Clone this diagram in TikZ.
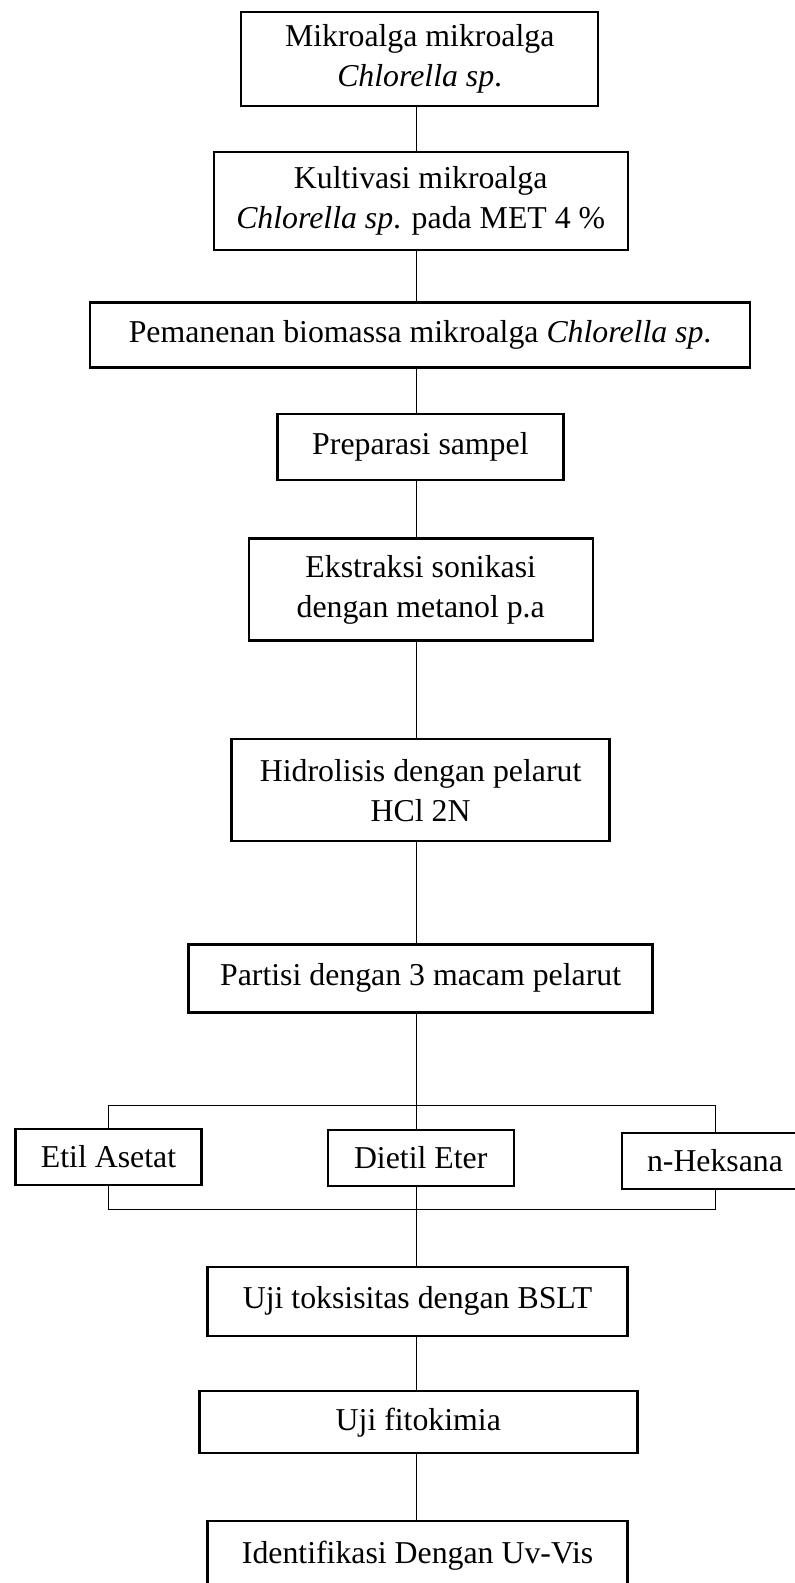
\documentclass[tikz,border=0pt]{standalone}
\usepackage{fontspec}
\setmainfont{Liberation Serif}
\usetikzlibrary{calc}

\begin{document}
\begin{tikzpicture}[x=1pt, y=-1pt,
  block/.style={rectangle, draw=black, line width=2.4pt, align=center, inner sep=0pt, font=\fontsize{31.8}{40}\selectfont},
  link/.style={draw=black, line width=1pt}]
  \useasboundingbox (0,0) rectangle (795,1583);
  \clip (0,0) rectangle (795,1583);

  \node[block, minimum width=357pt, minimum height=94pt] at (419.7,58.8) (b1) {Mikroalga mikroalga\\\textit{Chlorella sp}.};
  \node[block, minimum width=414pt, minimum height=98pt] at (420.7,201) (b2) {Kultivasi mikroalga\\\textit{Chlorella sp}. pada MET 4 \%};
  \node[block, minimum width=660pt, minimum height=65pt] at (420.1,335) (b3) {Pemanenan biomassa mikroalga \textit{Chlorella sp}.};
  \node[block, minimum width=286pt, minimum height=66pt] at (420.4,447.2) (b4) {Preparasi sampel};
  \node[block, minimum width=344pt, minimum height=102pt] at (420.7,589.5) (b5) {Ekstraksi sonikasi\\dengan metanol p.a};
  \node[block, minimum width=378pt, minimum height=102pt] at (420.6,790.2) (b6) {Hidrolisis dengan pelarut\\HCl 2N};
  \node[block, minimum width=464pt, minimum height=68pt] at (420.6,978.3) (b7) {Partisi dengan 3 macam pelarut};

  \node[block, minimum width=186pt, minimum height=56pt] at (108.5,1156.7) (e1) {Etil Asetat};
  \node[block, minimum width=186pt, minimum height=56pt] at (420.7,1157.7) (e2) {Dietil Eter};
  \node[block, minimum width=186pt, minimum height=56pt] at (715,1160.8) (e3) {n-Heksana};

  \node[block, minimum width=420pt, minimum height=69pt] at (417.6,1301.3) (b8) {Uji toksisitas dengan BSLT};
  \node[block, minimum width=438pt, minimum height=62pt] at (418.3,1422.2) (b9) {Uji fitokimia};
  \node[block, minimum width=420pt, minimum height=69pt] at (417.6,1555.7) (b10) {Identifikasi Dengan Uv-Vis};

  \coordinate (t) at (416.5,0);
  \coordinate (top) at (416.5,1105);
  \coordinate (bot) at (416.5,1209);

  \draw[link] (b1.south -| t) -- (b2.north -| t);
  \draw[link] (b2.south -| t) -- (b3.north -| t);
  \draw[link] (b3.south -| t) -- (b4.north -| t);
  \draw[link] (b4.south -| t) -- (b5.north -| t);
  \draw[link] (b5.south -| t) -- (b6.north -| t);
  \draw[link] (b6.south -| t) -- (b7.north -| t);
  \draw[link] (b7.south -| t) -- (e2.north -| t);
  \draw[link] (e1.north) |- (top) -| (e3.north);
  \draw[link] (e1.south) |- (bot) -| (e3.south);
  \draw[link] (e2.south -| t) -- (b8.north -| t);
  \draw[link] (b8.south -| t) -- (b9.north -| t);
  \draw[link] (b9.south -| t) -- (b10.north -| t);

\end{tikzpicture}
\end{document}
